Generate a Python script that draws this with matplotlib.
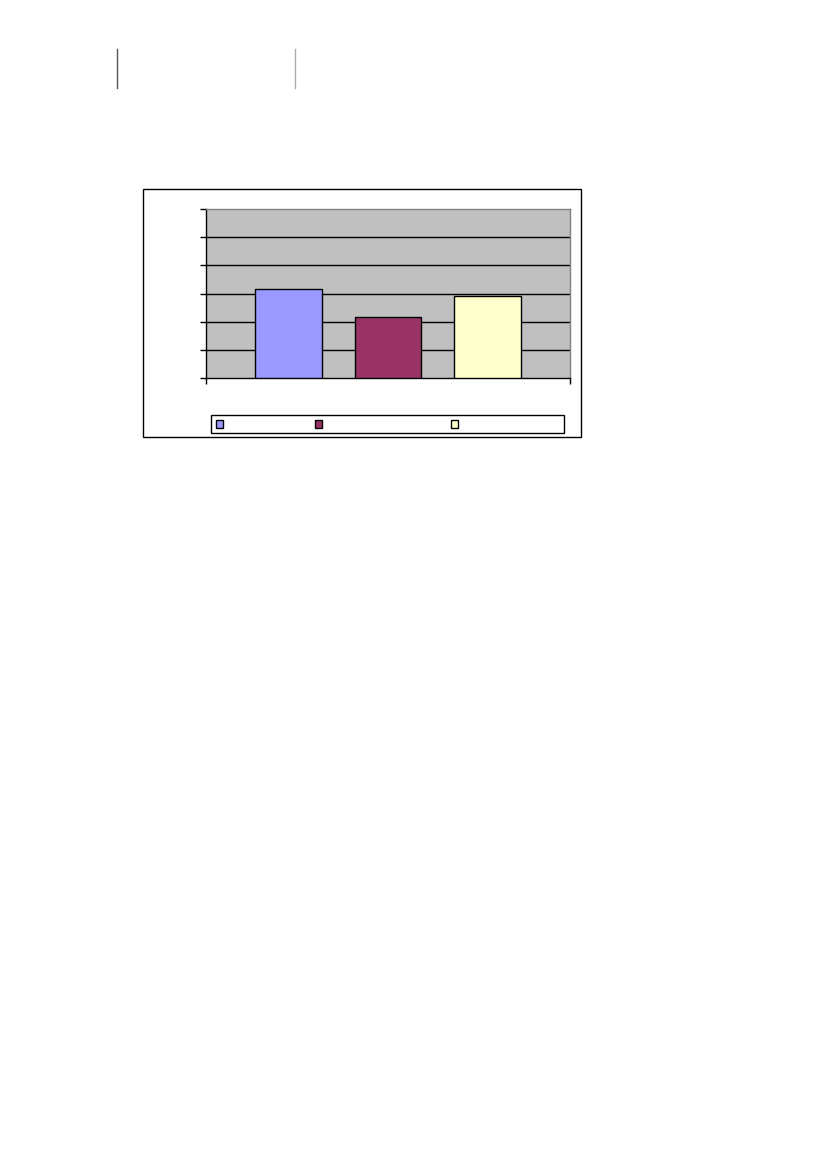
import matplotlib
matplotlib.use("Agg")
import matplotlib.pyplot as plt
from matplotlib.patches import Rectangle
from matplotlib.lines import Line2D

# Data
series_names = ["", "", ""]
values = [3.15, 2.15, 2.9]
colors = ["#9999FF", "#993366", "#FFFFCC"]
y_ticks = [0, 1, 2, 3, 4, 5, 6]

W, H = 827, 1169
fig = plt.figure(figsize=(W / 100, H / 100), dpi=100)

def fx(x):
    return x / W

def fy(y):
    return 1 - y / H

# Outer chart frame
fig.add_artist(Rectangle((fx(143), fy(437)), fx(581) - fx(143), fy(189) - fy(437),
                         transform=fig.transFigure, fill=False, edgecolor="black", linewidth=1))

# Header lines
fig.add_artist(Line2D([fx(117), fx(117)], [fy(49), fy(88)], transform=fig.transFigure,
                      color="#555555", linewidth=1))
fig.add_artist(Line2D([fx(294.5), fx(294.5)], [fy(49), fy(88)], transform=fig.transFigure,
                      color="#AAAAAA", linewidth=1))

ax = fig.add_axes([fx(206), fy(378), fx(570) - fx(206), fy(209) - fy(378)])
ax.set_facecolor("#C0C0C0")
x = list(range(len(values)))
ax.bar(x, values, width=0.666, color=colors, edgecolor="black", linewidth=1, zorder=3)
ax.set_xlim(-0.827, 2.827)
ax.set_ylim(0, 6)
ax.set_yticks(y_ticks)
ax.set_yticklabels([])
ax.set_xticks([-0.827, 2.827])
ax.set_xticklabels([])
ax.tick_params(axis="both", direction="out", length=4, width=1, color="black")
for yv in y_ticks[1:-1]:
    ax.axhline(yv, color="black", linewidth=1, zorder=1)
ax.spines["left"].set_color("black")
ax.spines["bottom"].set_color("black")
ax.spines["top"].set_color("#808080")
ax.spines["right"].set_color("#808080")
for s in ax.spines.values():
    s.set_linewidth(1)

# Legend box (manual, labels blank as in reference)
fig.add_artist(Rectangle((fx(211), fy(433)), fx(564) - fx(211), fy(415) - fy(433),
                         transform=fig.transFigure, fill=True, facecolor="white",
                         edgecolor="black", linewidth=1))
marker_x = [216, 314.5, 450.5]
for mx, c, name in zip(marker_x, colors, series_names):
    fig.add_artist(Rectangle((fx(mx), fy(427.5)), fx(7), 7 / H,
                             transform=fig.transFigure, facecolor=c,
                             edgecolor="black", linewidth=1))

fig.savefig("out.png", dpi=100)
